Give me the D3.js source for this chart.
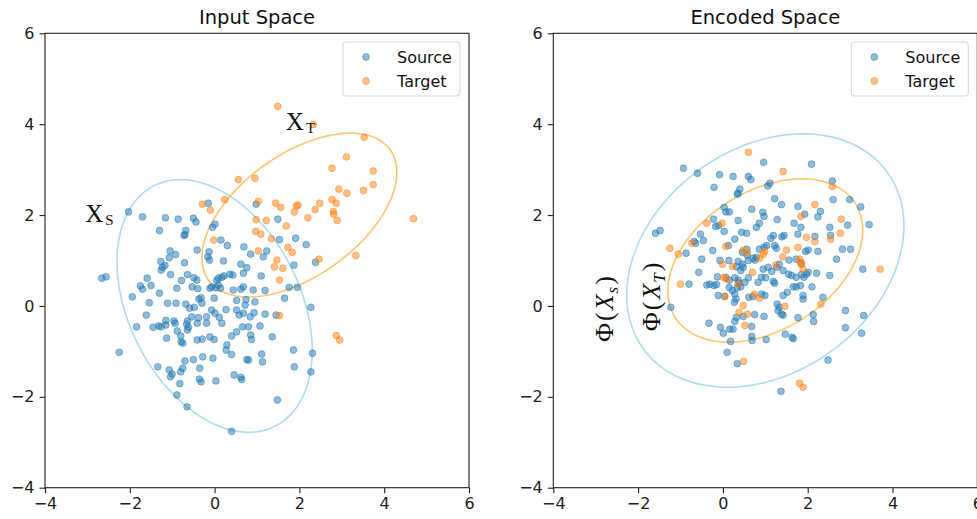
<!DOCTYPE html>
<html>
<head>
<meta charset="utf-8">
<script src="https://cdn.jsdelivr.net/npm/d3@7/dist/d3.min.js"></script>
<style>
  html, body { margin: 0; padding: 0; background: #fff; }
  svg { display: block; }
  text { font-family: "DejaVu Sans", sans-serif; }
  text.math { font-family: "Liberation Serif", "DejaVu Serif", serif; }
</style>
</head>
<body>
<svg id="fig" width="977" height="519"></svg>
<script>
// ---- data ---------------------------------------------------------------
const axisTicks = [-4, -2, 0, 2, 4, 6];
const panelTitles = ["Input Space", "Encoded Space"];
const seriesNames = ["Source", "Target"];

const sourceInput = [
  [-2.03,2.07],[-1.70,1.96],[-1.16,1.94],[-0.86,1.91],[-0.50,1.93],[-0.44,1.85],[-1.30,1.66],[-0.68,1.66],[-0.72,1.55],[-0.70,1.57],[-0.41,1.23],
  [-1.05,1.21],[-0.92,1.13],[-1.07,1.06],[-1.27,0.98],[-1.23,0.85],[-1.17,0.89],[-1.26,0.79],[-1.04,0.69],[-0.71,0.95],
  [-0.64,0.69],[-0.49,0.62],[-0.42,0.57],[-0.78,0.56],[-0.89,0.39],[-0.53,0.42],[-0.40,0.38],[-2.66,0.61],[-2.56,0.64],
  [-1.75,0.44],[-1.70,0.37],[-1.59,0.61],[-1.50,0.45],[-1.94,0.20],[-1.30,0.28],[-1.54,0.07],[-1.11,0.06],[-0.91,0.06],
  [-0.68,0.04],[-0.59,-0.05],[-0.48,-0.03],[-0.37,0.15],[-0.32,0.18],[-1.61,-0.20],[-1.84,-0.46],
  [-1.45,-0.47],[-1.32,-0.44],[-1.26,-0.46],[-1.15,-0.42],[-1.15,-0.32],[-0.96,-0.33],[-0.93,-0.38],
  [-0.64,-0.33],[-0.66,-0.40],[-0.62,-0.47],[-0.64,-0.53],[-0.38,-0.26],[-0.41,-0.38],
  [-0.88,-0.55],[-0.80,-0.66],[-0.75,-0.82],[-0.79,-0.79],[-1.13,-0.71],[-0.41,-0.75],[-0.29,-0.73],
  [-2.25,-1.02],[-1.34,-1.34],[-1.07,-1.41],[-1.00,-1.50],[-1.04,-1.56],[-0.80,-1.45],[-0.75,-1.37],[-0.70,-1.21],
  [-0.50,-1.18],[-0.28,-1.12],[-0.35,-1.37],[-0.36,-1.61],[-0.32,-1.67],[-0.82,-1.71],[-0.89,-1.96],[-0.65,-2.22],[-0.54,-0.24],
  [-0.15,2.26],[0.98,2.24],[1.49,1.91],[0.01,1.80],[-0.05,1.73],[0.15,1.45],[0.30,1.33],[0.69,1.30],[0.85,1.14],[1.15,1.08],[1.23,1.21],
  [1.53,1.46],[1.91,1.49],[2.16,1.35],[2.38,0.96],[1.87,0.90],
  [-0.13,1.19],[-0.16,1.08],[-0.12,1.01],[0.21,0.99],[0.62,0.92],[0.76,0.84],[0.68,0.72],[1.10,0.66],
  [0.36,0.70],[0.43,0.68],[0.22,0.66],[0.17,0.63],[0.09,0.61],[0.05,0.56],[0.09,0.46],[0.14,0.39],[0.03,0.40],[-0.07,0.42],[-0.11,0.39],
  [0.44,0.35],[0.62,0.37],[0.68,0.42],[0.91,0.35],[1.19,0.34],[1.76,0.41],[1.95,0.41],[1.65,0.17],[2.27,-0.03],
  [-0.30,0.06],[-0.01,0.17],[0.52,0.12],[0.74,0.14],[0.95,0.09],[0.27,-0.08],
  [-0.07,-0.09],[0.01,-0.16],[0.11,-0.25],[0.17,-0.38],[-0.19,-0.24],[-0.19,-0.38],
  [0.52,-0.09],[0.58,-0.20],[0.68,-0.16],[0.72,0.02],[0.93,-0.15],[0.84,-0.24],[1.19,-0.18],[1.45,-0.20],
  [0.66,-0.46],[0.80,-0.46],[1.07,-0.44],[0.40,-0.66],[0.52,-0.57],[0.85,-0.64],[0.87,-0.74],[1.36,-0.68],
  [-0.11,-0.68],[-0.01,-0.74],[0.29,-0.86],[0.27,-0.97],[0.40,-1.07],[0.76,-1.18],[0.80,-1.19],[1.11,-1.06],[1.13,-1.23],
  [-0.04,-1.15],[1.86,-0.97],[2.31,-1.04],[1.88,-1.34],[2.27,-1.45],[0.46,-1.52],[0.62,-1.57],[0.64,-1.62],[0.03,-1.65],[1.48,-2.07],[0.40,-2.76]
];

const targetInput = [
  [1.49,4.39],[2.33,3.99],[3.53,3.71],[3.11,3.28],[2.77,3.03],[3.74,2.97],[0.56,2.78],[0.95,2.81],[2.93,2.57],[3.74,2.67],
  [3.12,2.48],[3.51,2.54],[0.24,2.34],[-0.29,2.24],[-0.10,2.11],[1.03,2.30],[1.44,2.26],[1.56,2.17],[1.93,2.20],[1.97,2.22],
  [1.88,2.07],[2.48,2.26],[2.37,2.12],[2.77,2.34],[2.87,2.26],[2.80,2.08],[2.81,2.02],[2.89,1.88],[2.20,1.94],[0.98,1.90],
  [1.22,1.88],[1.69,1.76],[0.97,1.64],[1.09,1.58],[-0.02,1.45],[1.34,1.48],[1.73,1.29],[1.83,1.18],[1.03,1.21],[3.33,1.11],
  [2.46,1.03],[1.47,1.01],[1.41,0.86],[1.61,0.83],[1.53,0.57],[4.69,1.92],[1.53,-0.21],[2.87,-0.65],[2.95,-0.75]
];

const sourceEncoded = [
  [-0.93,3.03],[-0.60,2.92],[-0.08,2.89],[0.24,2.85],[0.60,2.85],[0.66,2.78],[0.96,3.16],[2.09,3.12],[1.06,2.64],[1.11,2.70],
  [-0.21,2.61],[0.40,2.57],[0.36,2.48],[0.34,2.46],[2.58,2.75],[2.60,2.34],[2.99,2.34],[3.25,2.18],[1.22,2.36],[1.38,2.23],
  [1.77,2.19],[1.93,2.02],[2.30,2.08],[2.24,1.96],[0.68,2.13],[0.94,2.06],[0.97,1.97],[0.03,2.17],[0.07,2.07],[0.15,2.07],
  [-0.22,1.91],[-0.17,1.75],[-0.10,1.77],[0.03,1.64],[0.36,1.88],[0.86,1.82],[0.79,1.73],[1.28,1.90],[1.68,1.82],[1.84,1.73],
  [2.52,1.73],[2.94,1.78],[3.45,1.79],[-1.59,1.60],[-1.48,1.66],[-0.53,1.58],[-0.46,1.44],[-0.64,1.38],[-0.68,1.42],[-0.87,1.16],
  [-0.50,1.03],[-0.57,0.74],[-0.80,0.48],[-0.38,0.46],[-0.31,0.48],[-0.21,0.45],[-0.15,0.47],[-0.11,0.23],[0.04,0.21],[-1.23,-0.03],
  [-0.33,-0.38],[-0.06,-0.47],[0.01,-0.60],[0.16,-0.51],[0.24,-0.51],[0.18,-0.78],[0.10,-1.02],[0.34,-1.27],[0.68,-0.45],[0.75,-0.19],
  [0.97,-0.23],[0.68,-0.67],[0.69,-0.76],[1.02,-0.74],[1.47,-0.62],[1.63,-0.69],[1.66,-0.72],[1.77,-0.26],[2.13,-0.19],[2.14,-0.34],
  [2.36,0.19],[2.89,-0.10],[2.89,-0.48],[3.32,-0.21],[3.27,-0.60],[2.48,-1.19],[1.37,-1.88],[3.30,0.81],[2.52,0.67],[2.68,1.03],
  [2.82,1.25],[3.01,1.25],[2.54,1.55],[2.17,1.53],[2.24,1.20],[2.01,1.23],[1.95,1.20],[1.77,1.58],[1.44,1.55],[1.39,1.52],
  [1.19,1.55],[1.13,1.49],[1.22,1.33],[1.03,1.33],[0.97,1.29],[0.86,1.25],[1.26,1.27],[0.56,1.25],[0.46,1.18],[0.57,1.12],
  [0.28,1.47],[0.44,1.62],[0.56,1.60],[0.13,1.33],[-0.24,1.22],[-0.07,1.00],[0.14,1.00],[0.36,0.98],[0.46,0.92],[0.60,1.00],
  [0.71,1.05],[0.79,1.07],[0.76,1.01],[0.32,0.86],[0.42,0.78],[0.48,0.85],[0.95,0.81],[1.07,0.85],[1.15,0.76],[1.27,0.85],
  [1.42,0.78],[1.55,0.70],[1.62,0.67],[1.73,0.63],[1.85,0.69],[1.91,0.63],[1.97,0.70],[2.01,0.74],[1.56,1.01],[1.73,1.03],
  [1.85,0.94],[1.33,0.92],[-0.13,0.64],[0.07,0.63],[0.15,0.57],[0.28,0.62],[0.36,0.57],[0.38,0.50],[0.34,0.40],[0.42,0.42],
  [0.52,0.52],[0.60,0.62],[0.83,0.52],[0.91,0.63],[1.01,0.62],[1.19,0.54],[1.22,0.50],[0.15,0.41],[0.22,0.34],[0.28,0.26],
  [0.31,0.15],[0.27,0.08],[0.61,0.19],[0.71,0.21],[0.91,0.26],[0.99,0.23],[1.42,0.23],[1.52,0.30],[1.66,0.42],[1.73,0.42],
  [1.83,0.45],[2.10,0.42],[1.89,0.23],[1.89,0.15],[1.28,0.04],[1.33,-0.03],[1.30,-0.10],[1.38,-0.18],[1.42,-0.20],[0.32,-0.25],
  [0.28,-0.34],[0.48,-0.23],[2.21,0.72]
];

const targetEncoded = [
  [0.60,3.38],[1.42,2.96],[2.58,2.63],[2.17,2.23],[1.84,1.97],[2.79,1.91],[2.77,1.60],[2.54,1.47],[1.97,1.51],[2.17,1.42],
  [-0.38,1.82],[-0.02,1.82],[-0.73,1.38],[-1.25,1.27],[-1.05,1.14],[0.07,1.31],[0.48,1.23],[0.58,1.18],[0.95,1.14],[0.99,1.20],
  [1.50,1.23],[1.41,1.08],[1.77,1.29],[1.81,1.03],[1.83,0.96],[1.85,0.92],[1.89,0.81],[1.25,0.90],[0.87,1.05],[-0.01,0.92],
  [0.23,0.87],[0.70,0.74],[0.01,0.63],[0.09,0.59],[0.36,0.48],[-1.00,0.48],[0.05,0.21],[0.74,0.26],[0.86,0.17],[0.48,0.01],
  [0.38,-0.14],[0.58,-0.18],[0.52,-0.43],[1.46,-0.01],[2.31,0.04],[3.71,0.81],[0.49,-1.22],[1.81,-1.70],[1.89,-1.79]
];

// covariance-style ellipses: centre, semi-axes and rotation (degrees)
const inputEllipses = [
  { cx: 0.0, cy: 0.0, a: 3.01, b: 1.99, angle: 120.8 },
  { cx: 2.0, cy: 2.0, a: 2.58, b: 1.37, angle: 32.4 }
];
const encodedEllipses = [
  { cx: 1.0, cy: 1.0, a: 3.48, b: 2.52, angle: 29.8 },
  { cx: 1.0, cy: 1.0, a: 2.47, b: 1.55, angle: 28.2 }
];

// ---- drawing -------------------------------------------------------------
const colors = ["#1f77b4", "#ff7f0e"];
const ellipseColors = ["#acdcee", "#fcc56e"];
const svg = d3.select("#fig");

const panels = [
  { left: 45, title: panelTitles[0], series: [sourceInput, targetInput], ellipses: inputEllipses },
  { left: 553.3, title: panelTitles[1], series: [sourceEncoded, targetEncoded], ellipses: encodedEllipses }
];
const plotW = 424, plotTop = 33.3, plotH = 454.4;
const markerR = 3.4;

panels.forEach((p, pi) => {
  const x = d3.scaleLinear().domain([-4, 6]).range([p.left, p.left + plotW]);
  const y = d3.scaleLinear().domain([-4, 6]).range([plotTop + plotH, plotTop]);
  const g = svg.append("g");

  // ellipses
  p.ellipses.forEach((e, i) => {
    const th = e.angle * Math.PI / 180;
    const pts = d3.range(0, 2 * Math.PI, Math.PI / 90).map(t => [
      e.cx + e.a * Math.cos(th) * Math.cos(t) - e.b * Math.sin(th) * Math.sin(t),
      e.cy + e.a * Math.sin(th) * Math.cos(t) + e.b * Math.cos(th) * Math.sin(t)
    ]);
    g.append("path")
      .attr("d", d3.line().x(d => x(d[0])).y(d => y(d[1])).curve(d3.curveLinearClosed)(pts))
      .attr("fill", "none")
      .attr("stroke", ellipseColors[i])
      .attr("stroke-width", 1.6);
  });

  // scatter
  p.series.forEach((data, i) => {
    g.append("g").selectAll("circle").data(data).join("circle")
      .attr("cx", d => x(d[0]))
      .attr("cy", d => y(d[1]))
      .attr("r", markerR)
      .attr("fill", colors[i])
      .attr("fill-opacity", 0.5)
      .attr("stroke", colors[i])
      .attr("stroke-opacity", 0.45)
      .attr("stroke-width", 1);
  });

  // axes
  const fmt = d3.format("");
  const ax = g.append("g").attr("transform", `translate(0,${plotTop + plotH})`)
    .call(d3.axisBottom(x).tickValues(axisTicks).tickSize(5.5).tickPadding(4).tickFormat(fmt));
  const ay = g.append("g").attr("transform", `translate(${p.left},0)`)
    .call(d3.axisLeft(y).tickValues(axisTicks).tickSize(5.5).tickPadding(5).tickFormat(fmt));
  [ax, ay].forEach(a => {
    a.select(".domain").remove();
    a.selectAll("line").attr("stroke", "#222").attr("stroke-width", 1.1);
    a.selectAll("text").attr("font-size", 16).attr("fill", "#222")
      .style("font-family", "DejaVu Sans");
  });
  g.append("rect")
    .attr("x", p.left).attr("y", plotTop).attr("width", plotW).attr("height", plotH)
    .attr("fill", "none").attr("stroke", "#222").attr("stroke-width", 1.1);

  // title
  g.append("text")
    .attr("x", p.left + plotW / 2).attr("y", 24)
    .attr("text-anchor", "middle").attr("font-size", 19.5).attr("fill", "#111")
    .text(p.title);

  // legend
  const lx = p.left + plotW - 126, ly = 42;
  const lg = g.append("g").attr("transform", `translate(${lx},${ly})`);
  lg.append("rect").attr("width", 117).attr("height", 54).attr("rx", 3)
    .attr("fill", "#fff").attr("fill-opacity", 0.8)
    .attr("stroke", "#d5d5d5").attr("stroke-width", 1);
  seriesNames.forEach((name, i) => {
    lg.append("circle").attr("cx", 23).attr("cy", 15 + i * 24).attr("r", markerR)
      .attr("fill", colors[i]).attr("fill-opacity", 0.5)
      .attr("stroke", colors[i]).attr("stroke-opacity", 0.45);
    lg.append("text").attr("x", 54).attr("y", 15 + i * 24).attr("dy", "0.36em")
      .attr("font-size", 16).attr("fill", "#111").text(name);
  });

  // set annotations
  if (pi === 0) {
    const marks = [
      { x: -3.05, y: 1.85, sub: "S" },
      { x: 1.68, y: 3.88, sub: "T" }
    ];
    marks.forEach(m => {
      const t = g.append("text").attr("class", "math")
        .attr("x", x(m.x)).attr("y", y(m.y))
        .attr("font-size", 25).attr("fill", "#111");
      t.append("tspan").text("X");
      t.append("tspan").attr("font-size", 15).attr("dx", 2).attr("dy", 3).text(m.sub);
    });
  } else {
    const labels = [
      { x: -2.6, y: -0.07, sub: "s" },
      { x: -1.48, y: 0.20, sub: "T" }
    ];
    labels.forEach(l => {
      const t = g.append("text").attr("class", "math")
        .attr("transform", `translate(${x(l.x)},${y(l.y)}) rotate(-90)`)
        .attr("text-anchor", "middle")
        .attr("font-size", 26).attr("fill", "#111");
      t.append("tspan").text("Φ");
      t.append("tspan").attr("dx", 2).text("(");
      t.append("tspan").attr("dx", 2).attr("font-style", "italic").text("X");
      t.append("tspan").attr("font-style", "italic").attr("font-size", 17).attr("dx", 1).attr("dy", 5).text(l.sub);
      t.append("tspan").attr("dx", 2).attr("dy", -5).text(")");
    });
  }
});
</script>
</body>
</html>
